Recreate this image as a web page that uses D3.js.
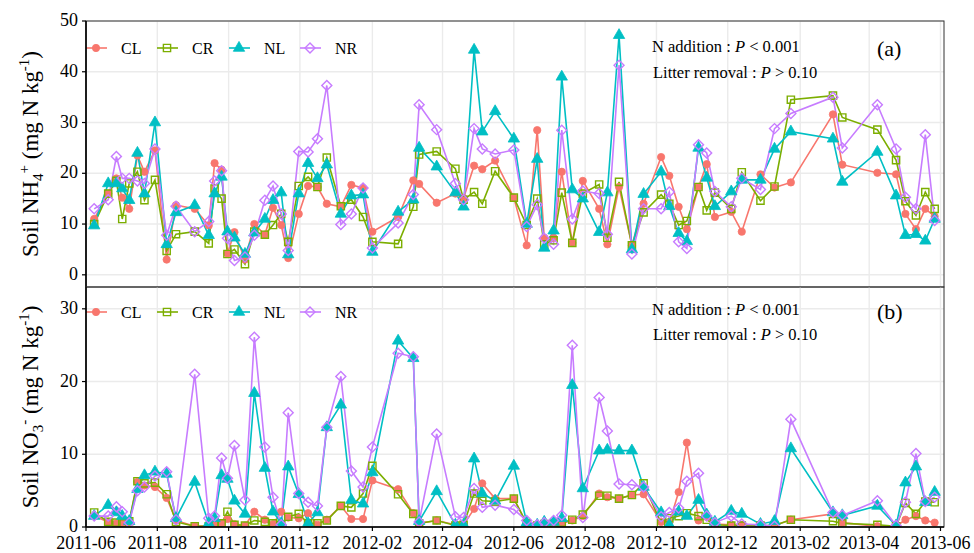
<!DOCTYPE html>
<html>
<head>
<meta charset="utf-8">
<script src="https://cdn.jsdelivr.net/npm/d3@7"></script>
<style>
  body { margin: 0; background: #fff; }
  #chart, #chart text { font-family: "Liberation Serif", "Times New Roman", Times, "DejaVu Serif", serif; }
  #chart text { fill: #000; }
</style>
</head>
<body>
<svg id="chart" width="974" height="553" font-family="Liberation Serif, Times New Roman, DejaVu Serif, serif"></svg>
<script>
// sampling dates, shared by all treatments
const dates = ["2011-06-08","2011-06-20","2011-06-27","2011-07-02","2011-07-08","2011-07-15","2011-07-21","2011-07-30","2011-08-09","2011-08-17",
  "2011-09-02","2011-09-14","2011-09-19","2011-09-25","2011-09-30","2011-10-06","2011-10-15","2011-10-23","2011-11-01","2011-11-08",
  "2011-11-15","2011-11-21","2011-11-30","2011-12-08","2011-12-16","2011-12-24","2012-01-05","2012-01-14","2012-01-24","2012-02-01",
  "2012-02-23","2012-03-07","2012-03-12","2012-03-27","2012-04-12","2012-04-19","2012-04-28","2012-05-05","2012-05-16","2012-06-01",
  "2012-06-12","2012-06-21","2012-06-27","2012-07-05","2012-07-12","2012-07-21","2012-07-30","2012-08-13","2012-08-20","2012-08-30",
  "2012-09-10","2012-09-20","2012-10-05","2012-10-12","2012-10-20","2012-10-27","2012-11-06","2012-11-13","2012-11-20","2012-12-04",
  "2012-12-13","2012-12-29","2013-01-10","2013-01-24","2013-03-01","2013-03-09","2013-04-08","2013-04-24","2013-05-02","2013-05-11",
  "2013-05-19","2013-05-27"];

const treatments = ["CL", "CR", "NL", "NR"];

// soil NH4+ (mg N kg-1)
const nh4CL = [11,16,19,15.2,13,23.5,20.3,24.5,3,13.7,13,9.7,22,20.7,4.2,8.4,3,10,7.9,13.2,9.8,3.3,12,17.5,17.3,14,13.4,17.7,17.1,8.5,
  11.4,18.6,17.9,14.2,16,15.1,21.5,20.8,22.5,15.2,5.8,28.5,7.3,7.3,20.3,6.3,18.5,13,6,17.3,5.8,14,23.2,19.5,13.4,9,17.3,21.8,11.4,12.4,
  8.5,19.8,17.2,18.2,31.6,21.7,20.1,19.8,12,9,13,11.5];
const nh4CR = [10,16,18.5,11,18,20.3,14.7,18.7,4.7,8,8.5,6.2,17,15,4.1,5,2.1,8.5,7.9,9.8,12,6.5,17.5,19.3,17.3,23.1,13.5,14.8,11.4,6.5,
  6.1,13.4,23.7,24.3,20.9,14.8,16.3,14,20.4,15.2,9.8,15,6,6.8,16.2,6.3,16,17.8,7.3,18.3,5.8,12.3,15.8,14,9.8,10.6,17.3,12.7,16.2,13,
  20.2,14.6,17.4,34.5,35.3,31,28.6,22.6,14.5,11.7,16.3,13];
const nh4NL = [9.7,18,18,17,14.7,24,16,30,6,12.3,13.7,7.8,16,19.3,8.5,7.3,4.1,8.3,11,14.7,16.2,4,16,22,19,21.7,12,15.6,15.8,4.5,
  12.4,14.8,25,21.3,16.2,13.4,44.3,28.2,32.2,26.8,10,22.8,5.3,8.7,39,16.8,15,8.4,16.2,47.2,5,15.9,20.3,13.5,8.2,6.6,25,19.1,13.5,16.4,
  18.7,18.7,24.8,28.2,26.8,18.3,24.2,15.6,7.8,8,6.7,11];
const nh4NR = [13,14.8,23.3,19,19,18.5,18,24.8,7.8,13.5,8.5,10.5,18.5,20.5,7.2,2.8,3.5,7.8,14.7,17.5,12,4.8,24.3,24.2,26.8,37.3,9.9,12,17.1,5.3,
  10.2,15.8,33.5,28.6,18,14.8,28.8,24.8,23.8,24.6,9.5,13.8,7.2,6,28.5,11,16.5,16,8,41.3,4.1,13,13,16.3,6.5,5.2,25.6,24,16.4,13.4,
  19,16.8,28.8,31.8,35,25,33.5,24.8,15.3,13,27.6,10.7];

// soil NO3- (mg N kg-1)
const no3CL = [1.5,0.7,0.5,0.5,0.7,6.2,5.7,5.5,4,0.9,0.1,0.2,0.5,0.5,1.1,0.4,0.2,2.1,1,0.4,2.1,1.3,1.2,1.9,0.3,1,2.9,1.1,1.1,6.4,
  5.2,1.9,0.5,0.9,0.3,0.3,2.5,6,3.9,3.9,0.4,0.2,0.2,0.4,0.5,0.9,1.5,4.6,4.1,3.9,4.4,4.5,0.7,0.6,4.8,11.6,0.9,1.4,0.4,0.3,
  0.3,0.1,0.2,1,1.8,0.6,0.1,0.1,1,1.5,0.9,0.6];
const no3CR = [2,0.7,0.6,0.5,0.8,6.3,6,6.1,4.5,0.7,0.1,0.1,0.5,0.5,2.1,0.3,0.2,0.9,0.7,0.5,0.3,1.4,1.8,0.5,0.5,0.9,2.9,2.7,4.6,8.4,
  4.5,1.8,0.5,0.9,0.2,0.3,4.6,3.6,3.5,3.9,0.5,0.2,0.4,0.5,0.6,1,1.7,4.3,4.3,3.9,4.4,6,0.5,1.2,1.5,1.9,1.5,1,0.3,0.2,
  0.2,0.2,0.2,1,0.8,0.5,0.3,0.1,3.3,1.8,3.5,3.4];
const no3NL = [1.5,3,2,1.5,0.8,5.2,7.1,7.6,7.3,1.2,6.2,0.5,1.2,7.1,6.6,3.6,1.8,18.4,8.1,2.1,0.5,8.3,4.5,0.5,2,13.7,16.8,3.7,3.2,7.5,
  25.6,23.2,0.8,4.9,0.3,0.3,9.4,4.6,3.6,8.4,0.6,0.3,0.7,0.7,1.2,19.5,5.3,10.5,10.6,10.5,10.5,5.5,2,0.3,2.1,1.5,3.7,1.7,0.7,2.2,
  1.8,0.4,0.8,10.8,2,1.6,2.9,0.2,6.1,8.3,3.4,4.8];
const no3NR = [1.5,1.5,2.8,2.1,0.6,5,5.5,7,7.6,1,21,1.2,1.5,9.5,6.7,11.2,3.7,26.1,11,4.1,0.3,15.7,4.6,3.4,2.9,13.7,20.7,7.7,5.5,11,
  23.9,23.4,0.7,12.8,1.4,1.3,5.3,2.7,3,2.4,0.9,0.3,0.6,0.9,1.6,25,1.3,17.8,13.2,5.9,5.8,5.5,1.4,2,2.6,6.3,7.4,1.5,0.6,1.5,
  0.4,0.3,0.1,14.8,2,1.6,3.6,0.2,3.4,10.1,3.5,4.1];

const xTickLabels = ["2011-06","2011-08","2011-10","2011-12","2012-02","2012-04","2012-06","2012-08","2012-10","2012-12","2013-02","2013-04","2013-06"];
const yTicksA = [0, 10, 20, 30, 40, 50];
const yTicksB = [0, 10, 20, 30];

const colors = { CL: "#F8766D", CR: "#7CAE00", NL: "#00BFC4", NR: "#C77CFF" };
const shapes = {
  CL: { type: d3.symbolCircle, size: 42, fill: true, rot: 0 },
  CR: { type: d3.symbolSquare, size: 52, fill: false, rot: 0 },
  NL: { type: d3.symbolTriangle, size: 56, fill: true, rot: 0 },
  NR: { type: d3.symbolSquare, size: 50, fill: false, rot: 45 },
};

const parseDay = d3.timeParse("%Y-%m-%d");
const parseMonth = d3.timeParse("%Y-%m");
const days = dates.map(parseDay);
const left = 86, right = 944;

const svg = d3.select("#chart");
const x = d3.scaleTime().domain([parseMonth("2011-06"), parseDay("2013-06-04")]).range([left, right]);

const panels = [
  { id: "a", top: 21, bottom: 287, domain: [-2.4, 50], ticks: yTicksA,
    values: [nh4CL, nh4CR, nh4NL, nh4NR], tag: "(a)", legendY: 48, noteY: [52, 78],
    title: [["Soil NH", "n"], ["4", "sub"], ["+", "sup"], [" (mg N kg", "n"], ["-1", "sup"], [")", "n"]] },
  { id: "b", top: 287, bottom: 527, domain: [0, 33], ticks: yTicksB,
    values: [no3CL, no3CR, no3NL, no3NR], tag: "(b)", legendY: 312, noteY: [315, 340],
    title: [["Soil NO", "n"], ["3", "sub"], ["-", "sup"], [" (mg N kg", "n"], ["-1", "sup"], [")", "n"]] },
];

function symbol(sel, name) {
  const s = shapes[name];
  sel.append("path")
    .attr("d", d3.symbol().type(s.type).size(s.size))
    .attr("transform", d => `translate(${d[0]},${d[1]}) rotate(${s.rot})`)
    .attr("fill", s.fill ? colors[name] : "none")
    .attr("stroke", colors[name])
    .attr("stroke-width", s.fill ? 0.8 : 1.4);
}

panels.forEach(p => {
  const y = d3.scaleLinear().domain(p.domain).range([p.bottom, p.top]);
  const g = svg.append("g").attr("class", "panel-" + p.id);

  g.append("clipPath").attr("id", "clip-" + p.id)
    .append("rect").attr("x", left).attr("y", p.top).attr("width", right - left).attr("height", p.bottom - p.top);

  // grid
  const grid = g.append("g").attr("stroke", "#ebebeb").attr("stroke-width", 1.4);
  grid.selectAll("line.v").data(xTickLabels.map(parseMonth)).enter().append("line")
    .attr("x1", d => x(d)).attr("x2", d => x(d)).attr("y1", p.top).attr("y2", p.bottom);
  grid.selectAll("line.h").data(p.ticks).enter().append("line")
    .attr("x1", left).attr("x2", right).attr("y1", d => y(d)).attr("y2", d => y(d));

  const plot = g.append("g").attr("clip-path", `url(#clip-${p.id})`);
  const line = d3.line().x(d => x(d[0])).y(d => y(d[1]));

  treatments.forEach((name, i) => {
    const pts = days.map((d, j) => [d, p.values[i][j]]);
    plot.append("path").attr("d", line(pts))
      .attr("fill", "none").attr("stroke", colors[name]).attr("stroke-width", 1.6);
  });
  treatments.forEach((name, i) => {
    const pts = days.map((d, j) => [x(d), y(p.values[i][j])]);
    plot.selectAll(null).data(pts).enter().call(symbol, name);
  });

  // legend
  const legX = [96, 167, 239, 310];
  treatments.forEach((name, i) => {
    const lg = g.append("g");
    lg.append("line").attr("x1", legX[i] - 10).attr("x2", legX[i] + 11)
      .attr("y1", p.legendY).attr("y2", p.legendY)
      .attr("stroke", colors[name]).attr("stroke-width", 1.6);
    lg.selectAll(null).data([[legX[i], p.legendY]]).enter().call(symbol, name);
    lg.append("text").attr("x", legX[i] + 25).attr("y", p.legendY + 5.5)
      .style("font-size", "16px").text(name);
  });

  // statistics notes
  const n1 = g.append("text").attr("x", 652).attr("y", p.noteY[0]).style("font-size", "16.5px");
  n1.append("tspan").text("N addition :  ");
  n1.append("tspan").style("font-style", "italic").text("P");
  n1.append("tspan").text(" < 0.001");
  const n2 = g.append("text").attr("x", 653).attr("y", p.noteY[1]).style("font-size", "16.5px");
  n2.append("tspan").text("Litter removal :  ");
  n2.append("tspan").style("font-style", "italic").text("P");
  n2.append("tspan").text(" > 0.10");
  g.append("text").attr("x", 877).attr("y", p.noteY[0] + 4).style("font-size", "22px").text(p.tag);

  // border
  g.append("rect").attr("x", left).attr("y", p.top).attr("width", right - left).attr("height", p.bottom - p.top)
    .attr("fill", "none").attr("stroke", "#333").attr("stroke-width", 1);

  // y axis
  g.append("line").attr("x1", left).attr("x2", left).attr("y1", p.top).attr("y2", p.bottom)
    .attr("stroke", "#000").attr("stroke-width", 1.6);
  const ya = g.append("g");
  ya.selectAll("line").data(p.ticks).enter().append("line")
    .attr("x1", left - 4).attr("x2", left).attr("y1", d => y(d)).attr("y2", d => y(d))
    .attr("stroke", "#000").attr("stroke-width", 1.2);
  ya.selectAll("text").data(p.ticks).enter().append("text")
    .attr("x", left - 8).attr("y", d => y(d) + 5).attr("text-anchor", "end")
    .style("font-size", "18px").text(d => d);

  // y title
  const t = g.append("text")
    .attr("transform", `translate(38,${(p.top + p.bottom) / 2}) rotate(-90)`)
    .attr("text-anchor", "middle").style("font-size", "23px");
  const off = { n: 0, sub: 5, sup: -9 };
  let cur = 0;
  p.title.forEach(([txt, kind]) => {
    t.append("tspan").attr("dy", off[kind] - cur)
      .style("font-size", kind === "n" ? "23px" : "15px").text(txt);
    cur = off[kind];
  });
});

// x axis under panel b
const bottom = panels[1].bottom;
svg.append("line").attr("x1", left).attr("x2", right).attr("y1", bottom).attr("y2", bottom)
  .attr("stroke", "#000").attr("stroke-width", 1.6);
const xa = svg.append("g");
xa.selectAll("line").data(xTickLabels).enter().append("line")
  .attr("x1", d => x(parseMonth(d))).attr("x2", d => x(parseMonth(d)))
  .attr("y1", bottom).attr("y2", bottom + 4).attr("stroke", "#000").attr("stroke-width", 1.2);
xa.selectAll("text").data(xTickLabels).enter().append("text")
  .attr("x", d => x(parseMonth(d))).attr("y", bottom + 22).attr("text-anchor", "middle")
  .style("font-size", "18px").text(d => d);
</script>
</body>
</html>
